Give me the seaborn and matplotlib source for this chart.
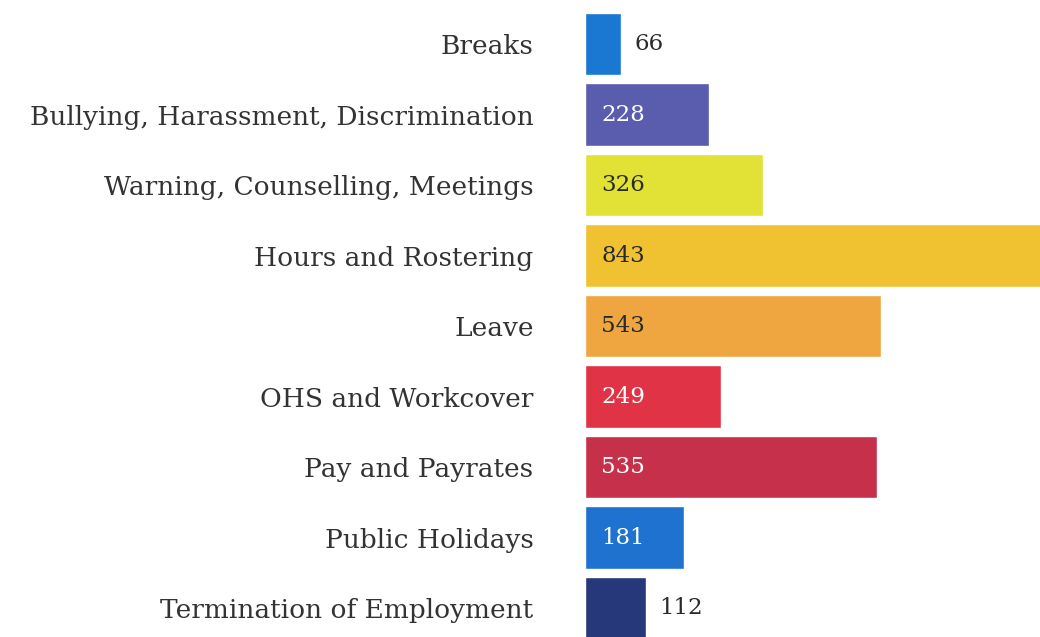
import seaborn as sns
import matplotlib.pyplot as plt
import pandas as pd

# categories and counts
categories = ['Breaks', 'Bullying, Harassment, Discrimination', 'Warning, Counselling, Meetings',
              'Hours and Rostering', 'Leave', 'OHS and Workcover', 'Pay and Payrates',
              'Public Holidays', 'Termination of Employment']
counts = [66, 228, 326, 843, 543, 249, 535, 181, 112]
colours = ['#1a78d2', '#5a5cae', '#e2e236', '#f0c232', '#f0a640', '#e03446',
           '#c6304a', '#2072d0', '#27387a']
label_colours = ['#2a2a2a', 'white', '#2a2a2a', '#2a2a2a', '#2a2a2a', 'white',
                 'white', 'white', '#2a2a2a']

data = pd.DataFrame({'category': categories, 'count': counts})

sns.set_style('white')
plt.rcParams['font.family'] = ['DejaVu Serif']

fig = plt.figure(figsize=(10.4, 6.37), dpi=100)
ax = fig.add_axes([585 / 1040, 0, 1 - 585 / 1040, 1])

sns.barplot(data=data, y='category', x='count', hue='category', palette=colours,
            legend=False, width=0.89, ax=ax, saturation=1, orient='h')

ax.set_xlim(0, 835)
ax.set_ylim(8.41, -0.624)
ax.set_xlabel('')
ax.set_ylabel('')
ax.set_xticks([])
ax.tick_params(axis='y', length=0, pad=37, labelsize=19, labelcolor='#333333')
sns.despine(ax=ax, left=True, bottom=True)

for i, (v, c) in enumerate(zip(counts, label_colours)):
    if v < 150:
        ax.text(v + 25, i, str(v), va='center', ha='left', fontsize=16.5, color=c)
    else:
        ax.text(30, i, str(v), va='center', ha='left', fontsize=16.5, color=c)

fig.savefig('out.png', dpi=100)
